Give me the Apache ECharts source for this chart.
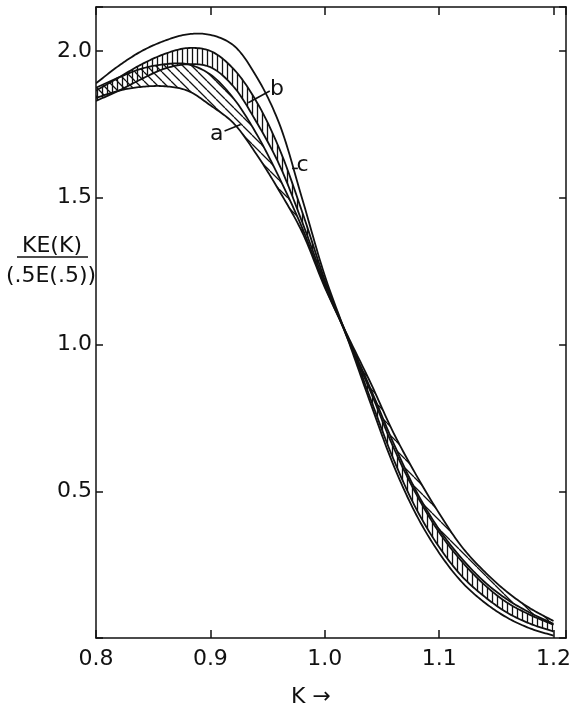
<!DOCTYPE html>
<html><head><meta charset="utf-8">
<script src="https://cdn.jsdelivr.net/npm/echarts@6/dist/echarts.min.js"></script>
<style>html,body{margin:0;padding:0;background:#fff}#c{width:574px;height:710px}</style>
</head><body><div id="c"></div>
<script>
// K values (x)
const xValues = [0.80,0.82,0.84,0.86,0.88,0.90,0.92,0.94,0.96,0.98,1.00,1.02,1.04,1.06,1.08,1.10,1.12,1.14,1.16,1.18,1.20];
// curve c (outer, steepest)
const curveC     = [1.89,1.95,2.00,2.035,2.057,2.055,2.02,1.915,1.755,1.50,1.235,1.02,0.80,0.59,0.42,0.29,0.19,0.12,0.068,0.032,0.008];
// band b (vertically hatched)
const bandBUpper = [1.865,1.91,1.955,1.99,2.01,2.00,1.94,1.83,1.67,1.455,1.22,1.02,0.84,0.65,0.49,0.36,0.26,0.18,0.119,0.078,0.045];
const bandBLower = [1.83,1.865,1.905,1.94,1.955,1.945,1.88,1.76,1.615,1.42,1.21,1.025,0.815,0.61,0.44,0.31,0.21,0.14,0.085,0.048,0.022];
// band a (diagonally hatched)
const bandAUpper = [1.875,1.91,1.94,1.955,1.955,1.92,1.84,1.72,1.57,1.40,1.20,1.025,0.85,0.665,0.50,0.37,0.27,0.19,0.13,0.085,0.048];
const bandALower = [1.84,1.865,1.878,1.88,1.865,1.815,1.755,1.65,1.525,1.385,1.195,1.03,0.87,0.70,0.555,0.425,0.31,0.225,0.155,0.10,0.058];
// tick labels
const xTickLabels = ['0.8','0.9','1.0','1.1','1.2'];
const yTickLabels = ['0.5','1.0','1.5','2.0'];
// curve labels (data coordinates)
const annotations = [
  {text:'a', at:[0.9055,1.717], from:[0.9124,1.7275], to:[0.9265,1.75]},
  {text:'b', at:[0.9582,1.871], from:[0.9519,1.864], to:[0.9331,1.824]},
  {text:'c', at:[0.9806,1.612], from:[0.9765,1.60], to:[0.9714,1.60]}
];

const INK = '#111';
const FONT = '"DejaVu Sans", sans-serif';
const LW = 1.8;

function hatch(kind){
  const s = kind === 'v' ? 5 : 9;
  const cv = document.createElement('canvas');
  cv.width = s; cv.height = s;
  const ctx = cv.getContext('2d');
  ctx.strokeStyle = INK; ctx.lineWidth = 1.3;
  ctx.beginPath();
  if (kind === 'v') { ctx.moveTo(2.5,0); ctx.lineTo(2.5,s); }
  else { for (const k of [-s,0,s]) { ctx.moveTo(k,0); ctx.lineTo(k+s,s); } }
  ctx.stroke();
  return cv;
}
// centripetal Catmull-Rom through pixel points (rendering of a smooth curve)
function spline(pts){
  const n = pts.length, out = [pts[0]];
  const mix = (a,b,wa,wb)=>[a[0]*wa+b[0]*wb, a[1]*wa+b[1]*wb];
  const tj = (a,b)=>Math.max(Math.pow(Math.hypot(b[0]-a[0], b[1]-a[1]), 0.5), 1e-4);
  for (let i = 0; i < n-1; i++){
    const p1 = pts[i], p2 = pts[i+1];
    const p0 = i > 0 ? pts[i-1] : [2*p1[0]-p2[0], 2*p1[1]-p2[1]];
    const p3 = i+2 < n ? pts[i+2] : [2*p2[0]-p1[0], 2*p2[1]-p1[1]];
    const t0 = 0, t1 = t0+tj(p0,p1), t2 = t1+tj(p1,p2), t3 = t2+tj(p2,p3);
    const steps = 14;
    for (let s = 1; s <= steps; s++){
      const t = t1 + (t2-t1)*s/steps;
      const A1 = mix(p0,p1,(t1-t)/(t1-t0),(t-t0)/(t1-t0));
      const A2 = mix(p1,p2,(t2-t)/(t2-t1),(t-t1)/(t2-t1));
      const A3 = mix(p2,p3,(t3-t)/(t3-t2),(t-t2)/(t3-t2));
      const B1 = mix(A1,A2,(t2-t)/(t2-t0),(t-t0)/(t2-t0));
      const B2 = mix(A2,A3,(t3-t)/(t3-t1),(t-t1)/(t3-t1));
      out.push(mix(B1,B2,(t2-t)/(t2-t1),(t-t1)/(t2-t1)));
    }
  }
  return out;
}
function fmt(list){ return v => { const s = v.toFixed(1); return (list.includes(s) && Math.abs(v-parseFloat(s))<1e-6) ? s : ''; }; }

function curveSeries(name, ys, z){
  return {type:'custom', name, silent:true, clip:true, z, encode:{x:0,y:1},
    data:[[xValues[0], ys[0]]],
    renderItem:(params, api)=>{
      const pts = spline(xValues.map((x,i)=>api.coord([x, ys[i]])));
      return {type:'polyline', shape:{points:pts}, style:{stroke:INK, lineWidth:LW, fill:null}};
    }};
}
function bandSeries(name, up, lo, kind, z){
  const pattern = hatch(kind);
  return {type:'custom', name, silent:true, clip:true, z, encode:{x:0,y:1},
    data:[[xValues[0], up[0]]],
    renderItem:(params, api)=>{
      const U = spline(xValues.map((x,i)=>api.coord([x, up[i]])));
      const L = spline(xValues.map((x,i)=>api.coord([x, lo[i]])));
      return {type:'group', children:[
        {type:'polygon', shape:{points:U.concat(L.slice().reverse())}, style:{fill:{image:pattern, repeat:'repeat'}, stroke:null}},
        {type:'polyline', shape:{points:U}, style:{stroke:INK, lineWidth:LW, fill:null}},
        {type:'polyline', shape:{points:L}, style:{stroke:INK, lineWidth:LW, fill:null}}
      ]};
    }};
}

const xCommon = {type:'value', min:0.8, max:1.211, interval:0.1,
  axisLine:{show:true, onZero:false, lineStyle:{color:INK, width:1.5}},
  axisTick:{show:true, inside:true, length:8, lineStyle:{color:INK, width:1.5}},
  splitLine:{show:false}};
const yCommon = {type:'value', min:0, max:2.15, interval:0.5,
  axisLine:{show:true, onZero:false, lineStyle:{color:INK, width:1.5}},
  axisTick:{show:true, inside:true, length:7, lineStyle:{color:INK, width:1.5}},
  splitLine:{show:false}};

const chart = echarts.init(document.getElementById('c'));
chart.setOption({
  animation:false,
  backgroundColor:'#fff',
  grid:{left:96, top:7, width:477, height:631, containLabel:false},
  xAxis:[
    Object.assign({}, xCommon, {position:'bottom',
      axisLabel:{show:true, margin:10, color:INK, fontSize:22, fontFamily:FONT, formatter:fmt(xTickLabels)}}),
    Object.assign({}, xCommon, {position:'top', axisLabel:{show:false}})
  ],
  yAxis:[
    Object.assign({}, yCommon, {position:'left',
      axisLabel:{show:true, margin:4, color:INK, fontSize:22, fontFamily:FONT, formatter:fmt(yTickLabels)}}),
    Object.assign({}, yCommon, {position:'right', axisLabel:{show:false}})
  ],
  graphic:[
    {type:'text', x:52, y:246, style:{text:'KE(K)', font:'22px '+FONT, fill:INK, align:'center', verticalAlign:'middle'}},
    {type:'line', shape:{x1:17, y1:257, x2:88, y2:257}, style:{stroke:INK, lineWidth:1.6}},
    {type:'text', x:51, y:276, style:{text:'(.5E(.5))', font:'22px '+FONT, fill:INK, align:'center', verticalAlign:'middle'}},
    {type:'text', x:311, y:697, style:{text:'K \u2192', font:'22px '+FONT, fill:INK, align:'center', verticalAlign:'middle'}}
  ],
  series:[
    bandSeries('a', bandAUpper, bandALower, 'd', 3),
    bandSeries('b', bandBUpper, bandBLower, 'v', 3),
    curveSeries('c', curveC, 4),
    {type:'custom', silent:true, z:5, encode:{x:0, y:1},
      data:annotations.map(a=>a.at),
      renderItem:(params, api)=>{
        const a = annotations[params.dataIndex];
        const p = api.coord(a.at), f = api.coord(a.from), t = api.coord(a.to);
        return {type:'group', children:[
          {type:'line', shape:{x1:f[0], y1:f[1], x2:t[0], y2:t[1]}, style:{stroke:INK, lineWidth:1.6}},
          {type:'text', x:p[0], y:p[1], style:{text:a.text, font:'22px '+FONT, fill:INK, align:'center', verticalAlign:'middle'}}
        ]};
      }}
  ]
});
</script></body></html>
